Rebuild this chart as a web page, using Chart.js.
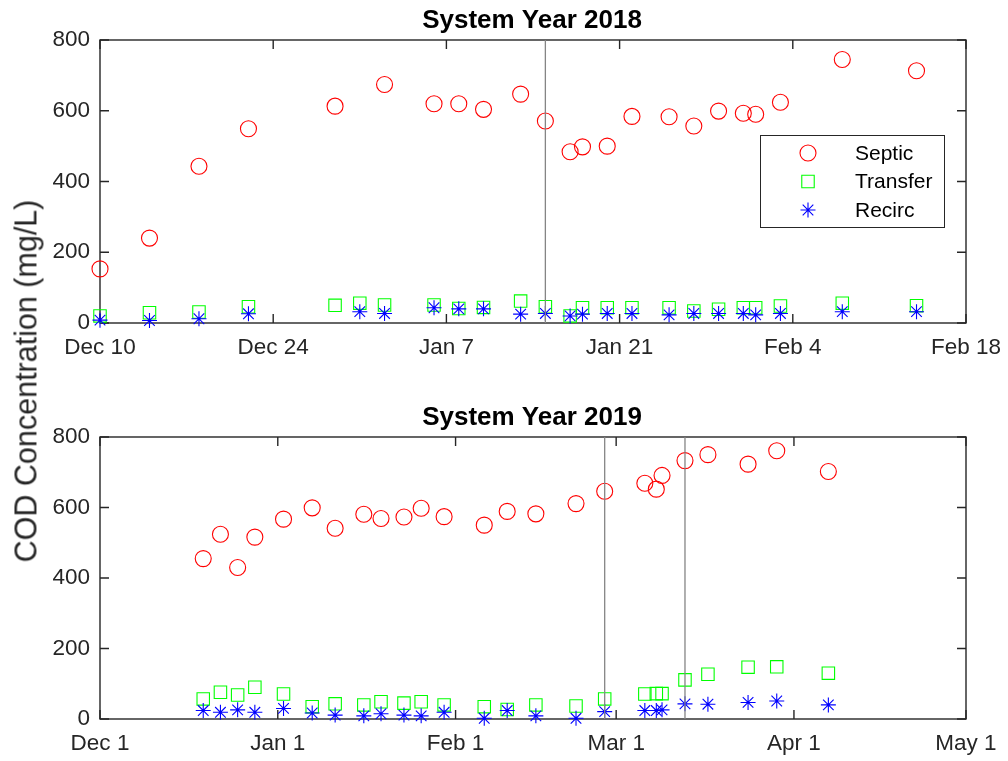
<!DOCTYPE html>
<html>
<head>
<meta charset="utf-8">
<title>COD Concentration by System Year</title>
<script src="https://cdn.jsdelivr.net/npm/chart.js@4.4.1/dist/chart.umd.min.js"></script>
<style>
  html, body { margin: 0; padding: 0; background: #fff; }
  body { width: 1008px; height: 761px; position: relative; overflow: hidden; }
  canvas { position: absolute; left: 0; }
  #ylab {
    position: absolute; left: 25.5px; top: 381px;
    transform: translate(-50%, -50%) rotate(-90deg);
    font: 30.5px "Liberation Sans", Arial, sans-serif; color: #262626;
    white-space: nowrap; line-height: 1.15;
  }
</style>
</head>
<body>
<canvas id="c2018" width="1008" height="365" style="top:0"></canvas>
<canvas id="c2019" width="1008" height="364" style="top:397px"></canvas>
<div id="ylab">COD Concentration (mg/L)</div>
<script>
// ---- Sampling data --------------------------------------------------------
const seriesNames = ['Septic', 'Transfer', 'Recirc'];
const yTickValues = [0, 200, 400, 600, 800];

// System year 2018 (Dec 2017 – Feb 2018)
const septic2018Dates = ['2017-12-10','2017-12-14','2017-12-18','2017-12-22','2017-12-29',
  '2018-01-02','2018-01-06','2018-01-08','2018-01-10','2018-01-13','2018-01-15','2018-01-17',
  '2018-01-18','2018-01-20','2018-01-22','2018-01-25','2018-01-27','2018-01-29','2018-01-31',
  '2018-02-01','2018-02-03','2018-02-08','2018-02-14'];
const septic2018 = [153, 240, 443, 549, 613, 674, 620, 620, 604, 647, 571, 484,
  498, 500, 584, 583, 557, 599, 593, 590, 624, 745, 713];

const transfer2018Dates = ['2017-12-10','2017-12-14','2017-12-18','2017-12-22','2017-12-29',
  '2017-12-31','2018-01-02','2018-01-06','2018-01-08','2018-01-10','2018-01-13','2018-01-15',
  '2018-01-17','2018-01-18','2018-01-20','2018-01-22','2018-01-25','2018-01-27','2018-01-29',
  '2018-01-31','2018-02-01','2018-02-03','2018-02-08','2018-02-14'];
const transfer2018 = [20, 29, 31, 46, 50, 56, 51, 51, 41, 44, 62, 46,
  20, 43, 43, 43, 43, 34, 39, 43, 43, 48, 56, 49];

const recirc2018Dates = ['2017-12-10','2017-12-14','2017-12-18','2017-12-22','2017-12-31',
  '2018-01-02','2018-01-06','2018-01-08','2018-01-10','2018-01-13','2018-01-15','2018-01-17',
  '2018-01-18','2018-01-20','2018-01-22','2018-01-25','2018-01-27','2018-01-29','2018-01-31',
  '2018-02-01','2018-02-03','2018-02-08','2018-02-14'];
const recirc2018 = [8, 7, 12, 26, 32, 27, 43, 40, 40, 25, 27, 20,
  25, 27, 27, 23, 27, 27, 27, 23, 27, 32, 32];

const events2018 = ['2018-01-15'];
const tickDates2018 = ['2017-12-10','2017-12-24','2018-01-07','2018-01-21','2018-02-04','2018-02-18'];
const tickLabels2018 = ['Dec 10', 'Dec 24', 'Jan 7', 'Jan 21', 'Feb 4', 'Feb 18'];

// System year 2019 (Dec 2018 – Apr 2019)
const dates2019 = ['2018-12-19','2018-12-22','2018-12-25','2018-12-28','2019-01-02',
  '2019-01-07','2019-01-11','2019-01-16','2019-01-19','2019-01-23','2019-01-26','2019-01-30',
  '2019-02-06','2019-02-10','2019-02-15','2019-02-22','2019-02-27','2019-03-06','2019-03-08',
  '2019-03-09','2019-03-13','2019-03-17','2019-03-24','2019-03-29','2019-04-07'];
const septic2019 = [455, 524, 430, 516, 567, 599, 541, 581, 569, 573, 598, 574,
  550, 589, 582, 611, 646, 669, 652, 691, 733, 750, 723, 761, 702];
const transfer2019 = [57, 76, 68, 90, 71, 35, 43, 40, 49, 45, 49, 40,
  35, 27, 40, 37, 57, 71, 72, 72, 111, 127, 147, 148, 130];
const recirc2019 = [24, 19, 26, 19, 30, 17, 11, 9, 15, 11, 9, 19,
  2, 24, 9, 2, 21, 24, 24, 26, 43, 42, 47, 51, 40];

const events2019 = ['2019-02-27', '2019-03-13'];
const tickDates2019 = ['2018-12-01','2019-01-01','2019-02-01','2019-03-01','2019-04-01','2019-05-01'];
const tickLabels2019 = ['Dec 1', 'Jan 1', 'Feb 1', 'Mar 1', 'Apr 1', 'May 1'];

// ---- Helpers --------------------------------------------------------------
const FONT = '"Liberation Sans", Arial, Helvetica, sans-serif';
const AXIS_COLOR = '#262626';

const dayNum = s => Date.UTC(+s.slice(0, 4), +s.slice(5, 7) - 1, +s.slice(8, 10)) / 864e5;
const toPoints = (dates, vals) => dates.map((d, i) => ({ x: dayNum(d), y: vals[i] }));

const markerStyles = {
  Septic:   { pointStyle: 'circle', radius: 8,   color: '#ff0000', order: 3 },
  Transfer: { pointStyle: 'rect',   radius: 8.8, color: '#00ff00', order: 2 },
  Recirc:   { pointStyle: 'star',   radius: 7.5, color: '#0000ff', order: 1 }
};

function makeDataset(name, dates, vals) {
  const m = markerStyles[name];
  return {
    label: name,
    data: toPoints(dates, vals),
    showLine: false,
    pointStyle: m.pointStyle,
    pointRadius: m.radius,
    pointHoverRadius: m.radius,
    pointBorderColor: m.color,
    pointBackgroundColor: 'rgba(0,0,0,0)',
    pointBorderWidth: 1.1,
    pointHoverBorderWidth: 1.1,
    clip: false,
    order: m.order
  };
}

// Axes box with inward tick marks on all four sides
const framePlugin = {
  id: 'frame',
  beforeDatasetsDraw(chart) {
    const { ctx, chartArea: a, scales: { x, y } } = chart;
    const tl = 9;
    ctx.save();
    ctx.strokeStyle = AXIS_COLOR;
    ctx.lineWidth = 1.4;
    ctx.strokeRect(a.left, a.top, a.right - a.left, a.bottom - a.top);
    ctx.beginPath();
    x.ticks.forEach(t => {
      const px = x.getPixelForValue(t.value);
      ctx.moveTo(px, a.bottom); ctx.lineTo(px, a.bottom - tl);
      ctx.moveTo(px, a.top);    ctx.lineTo(px, a.top + tl);
    });
    y.ticks.forEach(t => {
      const py = y.getPixelForValue(t.value);
      ctx.moveTo(a.left, py);  ctx.lineTo(a.left + tl, py);
      ctx.moveTo(a.right, py); ctx.lineTo(a.right - tl, py);
    });
    ctx.stroke();
    ctx.restore();
  }
};

// Vertical reference lines at event dates
const eventLinesPlugin = {
  id: 'eventLines',
  afterDatasetsDraw(chart, args, opts) {
    const { ctx, chartArea: a, scales: { x } } = chart;
    ctx.save();
    ctx.strokeStyle = '#858585';
    ctx.lineWidth = 1.3;
    (opts.dates || []).forEach(d => {
      const px = x.getPixelForValue(dayNum(d));
      ctx.beginPath();
      ctx.moveTo(px, a.top); ctx.lineTo(px, a.bottom);
      ctx.stroke();
    });
    ctx.restore();
  }
};

// Panel title centred over the plot area
const panelTitlePlugin = {
  id: 'panelTitle',
  afterDraw(chart, args, opts) {
    const { ctx, chartArea: a } = chart;
    ctx.save();
    ctx.fillStyle = '#000';
    ctx.font = 'bold 26px ' + FONT;
    ctx.textAlign = 'center';
    ctx.textBaseline = 'middle';
    ctx.fillText(opts.text, (a.left + a.right) / 2 - 1, a.top - 19);
    ctx.restore();
  }
};

function drawMarker(ctx, style, x, y) {
  ctx.strokeStyle = style.color;
  ctx.fillStyle = 'rgba(0,0,0,0)';
  ctx.lineWidth = 1.1;
  if (Chart.helpers && Chart.helpers.drawPoint) {
    Chart.helpers.drawPoint(ctx, { pointStyle: style.pointStyle, radius: style.radius, rotation: 0, borderWidth: 1.1 }, x, y);
    return;
  }
  ctx.beginPath();
  if (style.pointStyle === 'circle') {
    ctx.arc(x, y, style.radius, 0, Math.PI * 2);
  } else if (style.pointStyle === 'rect') {
    const s = style.radius * Math.SQRT1_2;
    ctx.rect(x - s, y - s, 2 * s, 2 * s);
  } else {
    for (let k = 0; k < 4; k++) {
      const ang = k * Math.PI / 4;
      const dx = Math.cos(ang) * style.radius, dy = Math.sin(ang) * style.radius;
      ctx.moveTo(x - dx, y - dy); ctx.lineTo(x + dx, y + dy);
    }
  }
  ctx.stroke();
}

// Boxed legend inside the plot area
const boxLegendPlugin = {
  id: 'boxLegend',
  afterDraw(chart, args, opts) {
    if (!opts.show) return;
    const { ctx, chartArea: a } = chart;
    const w = 184, h = 92;
    const left = a.right - 206, top = a.top + 95;
    ctx.save();
    ctx.fillStyle = '#fff';
    ctx.fillRect(left, top, w, h);
    ctx.strokeStyle = AXIS_COLOR;
    ctx.lineWidth = 1;
    ctx.strokeRect(left + 0.5, top + 0.5, w, h);
    ctx.font = '21px ' + FONT;
    ctx.textBaseline = 'middle';
    chart.data.datasets.forEach((ds, i) => {
      const cy = top + 18 + i * 28.5;
      drawMarker(ctx, markerStyles[ds.label], left + 48, cy);
      ctx.fillStyle = '#000';
      ctx.textAlign = 'left';
      ctx.fillText(ds.label, left + 95, cy + 1);
    });
    ctx.restore();
  }
};

function buildChart(canvasId, title, datasets, tickDates, tickLabels, events, showLegend) {
  const tickVals = tickDates.map(dayNum);
  return new Chart(document.getElementById(canvasId), {
    type: 'scatter',
    data: { datasets },
    options: {
      responsive: false,
      animation: false,
      devicePixelRatio: 1,
      events: [],
      layout: { padding: { top: 40, right: 42, left: 0, bottom: 0 } },
      scales: {
        x: {
          type: 'linear',
          min: tickVals[0],
          max: tickVals[tickVals.length - 1],
          afterBuildTicks: s => { s.ticks = tickVals.map(v => ({ value: v })); },
          afterFit: s => { s.height = 42; s.paddingLeft = 0; s.paddingRight = 0; },
          grid: { display: false, drawTicks: false },
          border: { display: false },
          ticks: {
            autoSkip: false, maxRotation: 0, minRotation: 0, padding: 11,
            color: AXIS_COLOR, font: { family: FONT, size: 22.5 },
            callback: (v, i) => tickLabels[i]
          }
        },
        y: {
          min: yTickValues[0],
          max: yTickValues[yTickValues.length - 1],
          afterBuildTicks: s => { s.ticks = yTickValues.map(v => ({ value: v })); },
          afterFit: s => { s.width = 100; s.paddingTop = 0; s.paddingBottom = 0; },
          grid: { display: false, drawTicks: false },
          border: { display: false },
          ticks: {
            padding: 10, color: AXIS_COLOR, font: { family: FONT, size: 22.5 },
            callback: v => String(v)
          }
        }
      },
      plugins: {
        legend: { display: false },
        tooltip: { enabled: false },
        title: { display: false },
        panelTitle: { text: title },
        eventLines: { dates: events },
        boxLegend: { show: showLegend }
      }
    },
    plugins: [framePlugin, eventLinesPlugin, panelTitlePlugin, boxLegendPlugin]
  });
}

buildChart('c2018', 'System Year 2018', [
  makeDataset(seriesNames[0], septic2018Dates, septic2018),
  makeDataset(seriesNames[1], transfer2018Dates, transfer2018),
  makeDataset(seriesNames[2], recirc2018Dates, recirc2018)
], tickDates2018, tickLabels2018, events2018, true);

buildChart('c2019', 'System Year 2019', [
  makeDataset(seriesNames[0], dates2019, septic2019),
  makeDataset(seriesNames[1], dates2019, transfer2019),
  makeDataset(seriesNames[2], dates2019, recirc2019)
], tickDates2019, tickLabels2019, events2019, false);
</script>
</body>
</html>
